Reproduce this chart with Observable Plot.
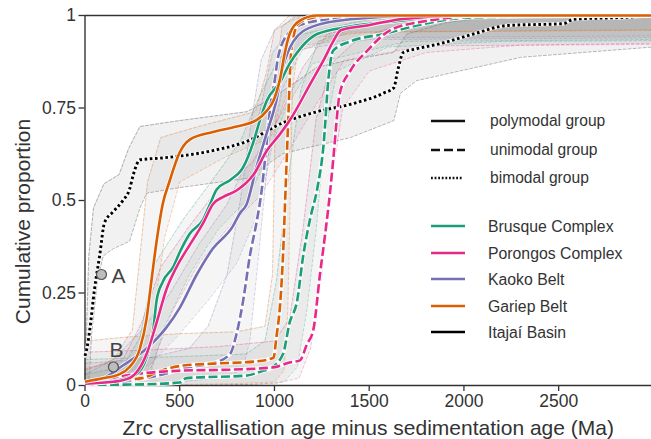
<!DOCTYPE html>
<html><head><meta charset="utf-8">
<script src="https://cdn.jsdelivr.net/npm/d3@7"></script>
<script src="https://cdn.jsdelivr.net/npm/@observablehq/plot@0.6"></script>
<style>
body{margin:0;background:#fff}
#wrap{position:relative;width:651px;height:439px;font-family:"Liberation Sans",Arial,sans-serif}
#legend{position:absolute;left:0;top:0;pointer-events:none}
</style>
</head><body><div id="wrap"></div>
<script>
// ---------- labels ----------
const groupNames = ["polymodal group", "unimodal group", "bimodal group"];
const unitNames = ["Brusque Complex", "Porongos Complex", "Kaoko Belt", "Gariep Belt", "Itajaí Basin"];
const unitColors = ["#1b9e77", "#e7298a", "#7570b3", "#d95f02", "#000000"];
const xTicks = [0, 500, 1000, 1500, 2000, 2500];
const yTicks = [0, 0.25, 0.5, 0.75, 1];
const xTitle = "Zrc crystallisation age minus sedimentation age (Ma)";
const yTitle = "Cumulative proportion";

// ---------- cumulative curves (x = Ma, y = proportion) ----------
const brusquePolyX = [0, 150, 270, 325, 360, 378, 410, 465, 500, 553, 625, 660, 695, 765, 835, 890, 925, 960, 1030, 1080, 1135, 1225, 1400, 1665, 1930, 3000];
const brusquePolyY = [0.005, 0.012, 0.03, 0.076, 0.15, 0.23, 0.28, 0.32, 0.36, 0.41, 0.45, 0.49, 0.53, 0.555, 0.59, 0.66, 0.72, 0.77, 0.82, 0.87, 0.91, 0.95, 0.97, 0.986, 1, 1];
const porongosPolyX = [0, 150, 235, 325, 378, 430, 483, 553, 625, 675, 730, 800, 890, 960, 1030, 1080, 1190, 1260, 1310, 1350, 1490, 1665, 2000, 3000];
const porongosPolyY = [0.005, 0.01, 0.02, 0.085, 0.17, 0.26, 0.32, 0.38, 0.44, 0.49, 0.51, 0.527, 0.57, 0.635, 0.68, 0.716, 0.816, 0.88, 0.93, 0.96, 0.973, 0.99, 1, 1];
const kaokoPolyX = [0, 100, 200, 325, 430, 500, 590, 675, 780, 817, 853, 905, 958, 1010, 1045, 1100, 1200, 1400, 1800, 3000];
const kaokoPolyY = [0.005, 0.02, 0.054, 0.10, 0.157, 0.21, 0.30, 0.37, 0.43, 0.465, 0.49, 0.59, 0.68, 0.77, 0.86, 0.93, 0.97, 0.99, 1, 1];
const gariepPolyX = [0, 100, 180, 235, 290, 325, 345, 378, 410, 445, 500, 555, 675, 800, 905, 960, 995, 1030, 1055, 1080, 1130, 1225, 3000];
const gariepPolyY = [0.01, 0.02, 0.03, 0.05, 0.10, 0.18, 0.26, 0.39, 0.49, 0.55, 0.63, 0.665, 0.685, 0.70, 0.717, 0.743, 0.77, 0.83, 0.90, 0.95, 0.985, 1, 1];

const brusqueUniX = [0, 300, 500, 535, 855, 940, 975, 1045, 1080, 1120, 1150, 1190, 1225, 1260, 1285, 1310, 1400, 1575, 1750, 2035, 3000];
const brusqueUniY = [0.002, 0.003, 0.008, 0.02, 0.027, 0.04, 0.045, 0.085, 0.17, 0.23, 0.345, 0.455, 0.53, 0.655, 0.83, 0.905, 0.93, 0.95, 0.973, 0.995, 1];
const porongosUniX = [0, 77, 150, 500, 780, 993, 1080, 1135, 1170, 1205, 1240, 1275, 1295, 1310, 1345, 1400, 1490, 1610, 1800, 2120, 3000];
const porongosUniY = [0.005, 0.01, 0.02, 0.04, 0.043, 0.049, 0.062, 0.068, 0.11, 0.15, 0.30, 0.44, 0.53, 0.61, 0.79, 0.85, 0.905, 0.96, 0.985, 1, 1];
const kaokoUniX = [0, 200, 410, 553, 675, 765, 800, 835, 870, 905, 933, 950, 975, 1003, 1020, 1080, 1170, 1310, 1500, 3000];
const kaokoUniY = [0.002, 0.01, 0.03, 0.05, 0.06, 0.085, 0.14, 0.23, 0.35, 0.44, 0.53, 0.61, 0.74, 0.83, 0.89, 0.955, 0.98, 0.99, 1, 1];
const gariepUniX = [0, 180, 300, 400, 518, 675, 900, 995, 1010, 1030, 1045, 1060, 1075, 1085, 1100, 1120, 1170, 1300, 3000];
const gariepUniY = [0.003, 0.015, 0.02, 0.04, 0.054, 0.059, 0.065, 0.075, 0.13, 0.22, 0.35, 0.55, 0.75, 0.88, 0.94, 0.975, 0.99, 1, 1];

const itajaiX = [0, 10, 25, 50, 77, 103, 150, 200, 235, 255, 290, 410, 675, 855, 1045, 1225, 1400, 1575, 1630, 1650, 1680, 1750, 1875, 2050, 2230, 2525, 2580, 2845, 3000];
const itajaiY = [0.08, 0.10, 0.15, 0.26, 0.35, 0.44, 0.47, 0.50, 0.53, 0.57, 0.61, 0.615, 0.635, 0.66, 0.71, 0.74, 0.76, 0.79, 0.805, 0.85, 0.90, 0.91, 0.924, 0.95, 0.973, 0.978, 0.99, 0.995, 1];

// ---------- uncertainty envelopes: upper/left edge and lower/right edge ----------
const brusquePolyUp = [[0,0.03],[200,0.05],[290,0.13],[370,0.33],[520,0.45],[680,0.56],[820,0.66],[920,0.78],[1020,0.88],[1150,0.95],[1500,0.99],[3000,1]];
const brusquePolyLo = [[0,0],[250,0.01],[350,0.04],[420,0.16],[550,0.30],[700,0.42],[850,0.50],[950,0.6],[1060,0.75],[1200,0.87],[1700,0.93],[3000,0.935]];
const porongosPolyUp = [[0,0.045],[200,0.07],[300,0.17],[400,0.32],[550,0.43],[700,0.53],[880,0.6],[1020,0.72],[1150,0.86],[1280,0.95],[1600,0.99],[3000,1]];
const porongosPolyLo = [[0,0],[250,0.01],[350,0.05],[460,0.2],[600,0.33],[760,0.43],[920,0.51],[1070,0.63],[1220,0.76],[1370,0.88],[1800,0.918],[3000,0.922]];
const kaokoPolyUp = [[0,0.03],[150,0.07],[300,0.15],[450,0.25],[600,0.38],[750,0.49],[870,0.62],[940,0.78],[990,0.9],[1100,0.97],[1300,1],[3000,1]];
const kaokoPolyLo = [[0,0],[200,0.02],[350,0.06],[500,0.14],[650,0.23],[800,0.33],[900,0.45],[970,0.6],[1040,0.8],[1150,0.91],[1500,0.935],[3000,0.94]];
const gariepPolyUp = [[0,0.04],[150,0.07],[250,0.15],[290,0.35],[330,0.55],[400,0.67],[600,0.70],[900,0.74],[960,0.85],[1000,0.96],[1080,1],[3000,1]];
const gariepPolyLo = [[0,0],[250,0.02],[320,0.07],[370,0.22],[420,0.40],[500,0.55],[750,0.62],[980,0.67],[1060,0.78],[1110,0.90],[1400,0.955],[3000,0.962]];

const brusqueUniUp = [[0,0.07],[300,0.075],[600,0.08],[850,0.085],[950,0.12],[1010,0.28],[1070,0.55],[1140,0.8],[1230,0.93],[1500,0.98],[2000,1],[3000,1]];
const brusqueUniLo = [[0,0],[500,0],[900,0.003],[1050,0.01],[1120,0.05],[1170,0.2],[1220,0.42],[1265,0.68],[1330,0.85],[1600,0.915],[2200,0.93],[3000,0.932]];
const porongosUniUp = [[0,0.09],[300,0.095],[700,0.105],[1000,0.12],[1080,0.18],[1150,0.42],[1220,0.72],[1300,0.87],[1450,0.94],[1700,0.98],[2100,1],[3000,1]];
const porongosUniLo = [[0,0],[600,0],[1000,0.005],[1130,0.02],[1190,0.1],[1250,0.3],[1300,0.55],[1360,0.75],[1500,0.85],[1800,0.9],[2300,0.92],[3000,0.925]];
const kaokoUniUp = [[0,0.06],[300,0.07],[550,0.1],[650,0.16],[750,0.3],[820,0.5],[880,0.72],[930,0.88],[1000,0.96],[1100,0.99],[1300,1],[3000,1]];
const kaokoUniLo = [[0,0],[400,0.005],[700,0.02],[830,0.04],[870,0.12],[910,0.32],[950,0.53],[990,0.74],[1040,0.86],[1150,0.92],[1500,0.94],[3000,0.945]];
const gariepUniUp = [[0,0.12],[200,0.13],[500,0.14],[800,0.145],[950,0.16],[990,0.3],[1000,0.6],[1010,0.85],[1040,0.97],[1100,0.995],[1300,1],[3000,1]];
const gariepUniLo = [[0,0],[400,0.002],[800,0.005],[1000,0.01],[1050,0.04],[1070,0.2],[1085,0.55],[1095,0.8],[1120,0.9],[1200,0.94],[1500,0.955],[3000,0.96]];

const itajaiUp = [[0,0],[8,0.15],[20,0.35],[45,0.48],[100,0.545],[180,0.57],[230,0.64],[290,0.70],[500,0.716],[855,0.74],[1000,0.78],[1225,0.86],[1400,0.88],[1630,0.90],[1700,0.95],[1900,0.98],[2200,1],[3000,1]];
const itajaiLo = [[0,0],[20,0],[35,0.14],[65,0.28],[96,0.35],[150,0.37],[235,0.39],[290,0.48],[325,0.52],[500,0.535],[855,0.56],[1045,0.627],[1400,0.67],[1630,0.716],[1665,0.79],[1750,0.824],[2300,0.887],[3000,0.915]];

// annotated samples
const sampleLabels = ["A", "B"];
const sampleX = [87, 150];
const sampleY = [0.30, 0.05];

// ---------- assemble ----------
const series = [
  {unit:0, group:0, X:brusquePolyX, Y:brusquePolyY, up:brusquePolyUp, lo:brusquePolyLo},
  {unit:1, group:0, X:porongosPolyX, Y:porongosPolyY, up:porongosPolyUp, lo:porongosPolyLo},
  {unit:2, group:0, X:kaokoPolyX, Y:kaokoPolyY, up:kaokoPolyUp, lo:kaokoPolyLo},
  {unit:3, group:0, X:gariepPolyX, Y:gariepPolyY, up:gariepPolyUp, lo:gariepPolyLo},
  {unit:0, group:1, X:brusqueUniX, Y:brusqueUniY, up:brusqueUniUp, lo:brusqueUniLo},
  {unit:1, group:1, X:porongosUniX, Y:porongosUniY, up:porongosUniUp, lo:porongosUniLo},
  {unit:2, group:1, X:kaokoUniX, Y:kaokoUniY, up:kaokoUniUp, lo:kaokoUniLo},
  {unit:3, group:1, X:gariepUniX, Y:gariepUniY, up:gariepUniUp, lo:gariepUniLo},
  {unit:4, group:2, X:itajaiX, Y:itajaiY, up:itajaiUp, lo:itajaiLo}
];
const dashFor = ["none", "9,3.5", "2.6,2.6"];

const marks = [];
// envelopes fill
for (const s of series) {
  const poly = s.up.map((u, i) => ({ux:u[0], uy:u[1], lx:s.lo[i][0], ly:s.lo[i][1]}));
  marks.push(Plot.area(poly, {x1:"lx", y1:"ly", x2:"ux", y2:"uy", fill:"#777", fillOpacity:s.unit===4?0.1:0.075}));
}
// envelope edges
for (const s of series) {
  const c = s.unit === 4 ? "#888" : unitColors[s.unit];
  for (const edge of [s.up, s.lo]) {
    marks.push(Plot.line(edge, {x:d=>d[0], y:d=>d[1], stroke:c, strokeOpacity:s.unit===4?0.8:0.4, strokeWidth:0.8, strokeDasharray:"3,2"}));
  }
}
// spines
marks.push(Plot.ruleY([1], {stroke:"#333", strokeWidth:1.4}));
marks.push(Plot.ruleY([0], {stroke:"#333", strokeWidth:1.4}));
marks.push(Plot.ruleX([0], {stroke:"#333", strokeWidth:1.4}));
// main curves
const order = [8, 6, 7, 4, 5, 2, 0, 1, 3];
for (const k of order) {
  const s = series[k];
  const pts = d3.zip(s.X, s.Y);
  marks.push(Plot.line(pts, {x:d=>d[0], y:d=>d[1], stroke:"#fff", strokeWidth:s.group===2?3.6:4.2, curve:"monotone-x", strokeOpacity:0.9}));
  marks.push(Plot.line(pts, {x:d=>d[0], y:d=>d[1], stroke:unitColors[s.unit], strokeWidth:s.group===2?2.9:2.6,
    strokeDasharray:dashFor[s.group], curve:"monotone-x", strokeLinecap:"butt"}));
}
// samples
const samples = sampleLabels.map((t, i) => ({t, x:sampleX[i], y:sampleY[i]}));
marks.push(Plot.dot(samples, {x:"x", y:"y", r:5, fill:"#bdbdbd", stroke:"#555", strokeWidth:1.2}));
marks.push(Plot.text(samples.slice(0,1), {x:"x", y:"y", text:"t", dx:10, dy:2, textAnchor:"start", fontSize:21, fill:"#444"}));
marks.push(Plot.text(samples.slice(1), {x:"x", y:"y", text:"t", dx:3, dy:-17, textAnchor:"middle", fontSize:21, fill:"#444"}));
// axes
marks.push(Plot.axisX({ticks:xTicks, tickFormat:d=>String(d), tickSize:6, tickPadding:3, fontSize:17.5, label:null, strokeWidth:1.3}));
marks.push(Plot.axisY({ticks:yTicks, tickFormat:d=>String(d), tickSize:6, tickPadding:3, fontSize:17.5, label:null, strokeWidth:1.3}));
marks.push(Plot.text([xTitle], {frameAnchor:"bottom", dy:43, text:d=>d, fontSize:21, fill:"#333", lineAnchor:"middle", textAnchor:"middle"}));
marks.push(Plot.text([yTitle], {frameAnchor:"left", dx:-62, dy:21, rotate:-90, text:d=>d, fontSize:21, fill:"#333", lineAnchor:"middle", textAnchor:"middle"}));

const chart = Plot.plot({
  width:651, height:439,
  marginLeft:84.5, marginRight:0, marginTop:15, marginBottom:54,
  x:{domain:[0,2990]},
  y:{domain:[0,1]},
  style:{fontFamily:'"Liberation Sans", Arial, sans-serif', color:"#333", background:"#fff", overflow:"visible"},
  marks
});
const wrap = document.getElementById("wrap");
wrap.appendChild(chart);

// ---------- legend ----------
const ns = "http://www.w3.org/2000/svg";
const leg = document.createElementNS(ns, "svg");
leg.setAttribute("id", "legend"); leg.setAttribute("width", 651); leg.setAttribute("height", 439);
const legRowsY = [121, 150, 178, 226, 253, 279, 306, 332];
const entries = [
  ...groupNames.map((g, i) => ({label:g, color:"#111", dash:dashFor[i], w:2.6})),
  ...unitNames.map((u, i) => ({label:u, color:unitColors[i], dash:"none", w:2.4}))
];
entries.forEach((e, i) => {
  const y = legRowsY[i];
  const ln = document.createElementNS(ns, "line");
  ln.setAttribute("x1", 431); ln.setAttribute("x2", i===2?462:465);
  ln.setAttribute("y1", y); ln.setAttribute("y2", y);
  ln.setAttribute("stroke", e.color); ln.setAttribute("stroke-width", e.w);
  if (e.dash !== "none") ln.setAttribute("stroke-dasharray", i===2 ? "1.8,1.8" : "9,4");
  leg.appendChild(ln);
  const tx = document.createElementNS(ns, "text");
  tx.setAttribute("x", i < 3 ? 490 : 488); tx.setAttribute("y", y);
  tx.setAttribute("dy", "0.35em");
  tx.setAttribute("font-size", i < 3 ? 15.6 : 15.8);
  tx.setAttribute("fill", "#333");
  tx.setAttribute("font-family", '"Liberation Sans", Arial, sans-serif');
  tx.textContent = e.label;
  leg.appendChild(tx);
});
wrap.appendChild(leg);
</script>
</body></html>
